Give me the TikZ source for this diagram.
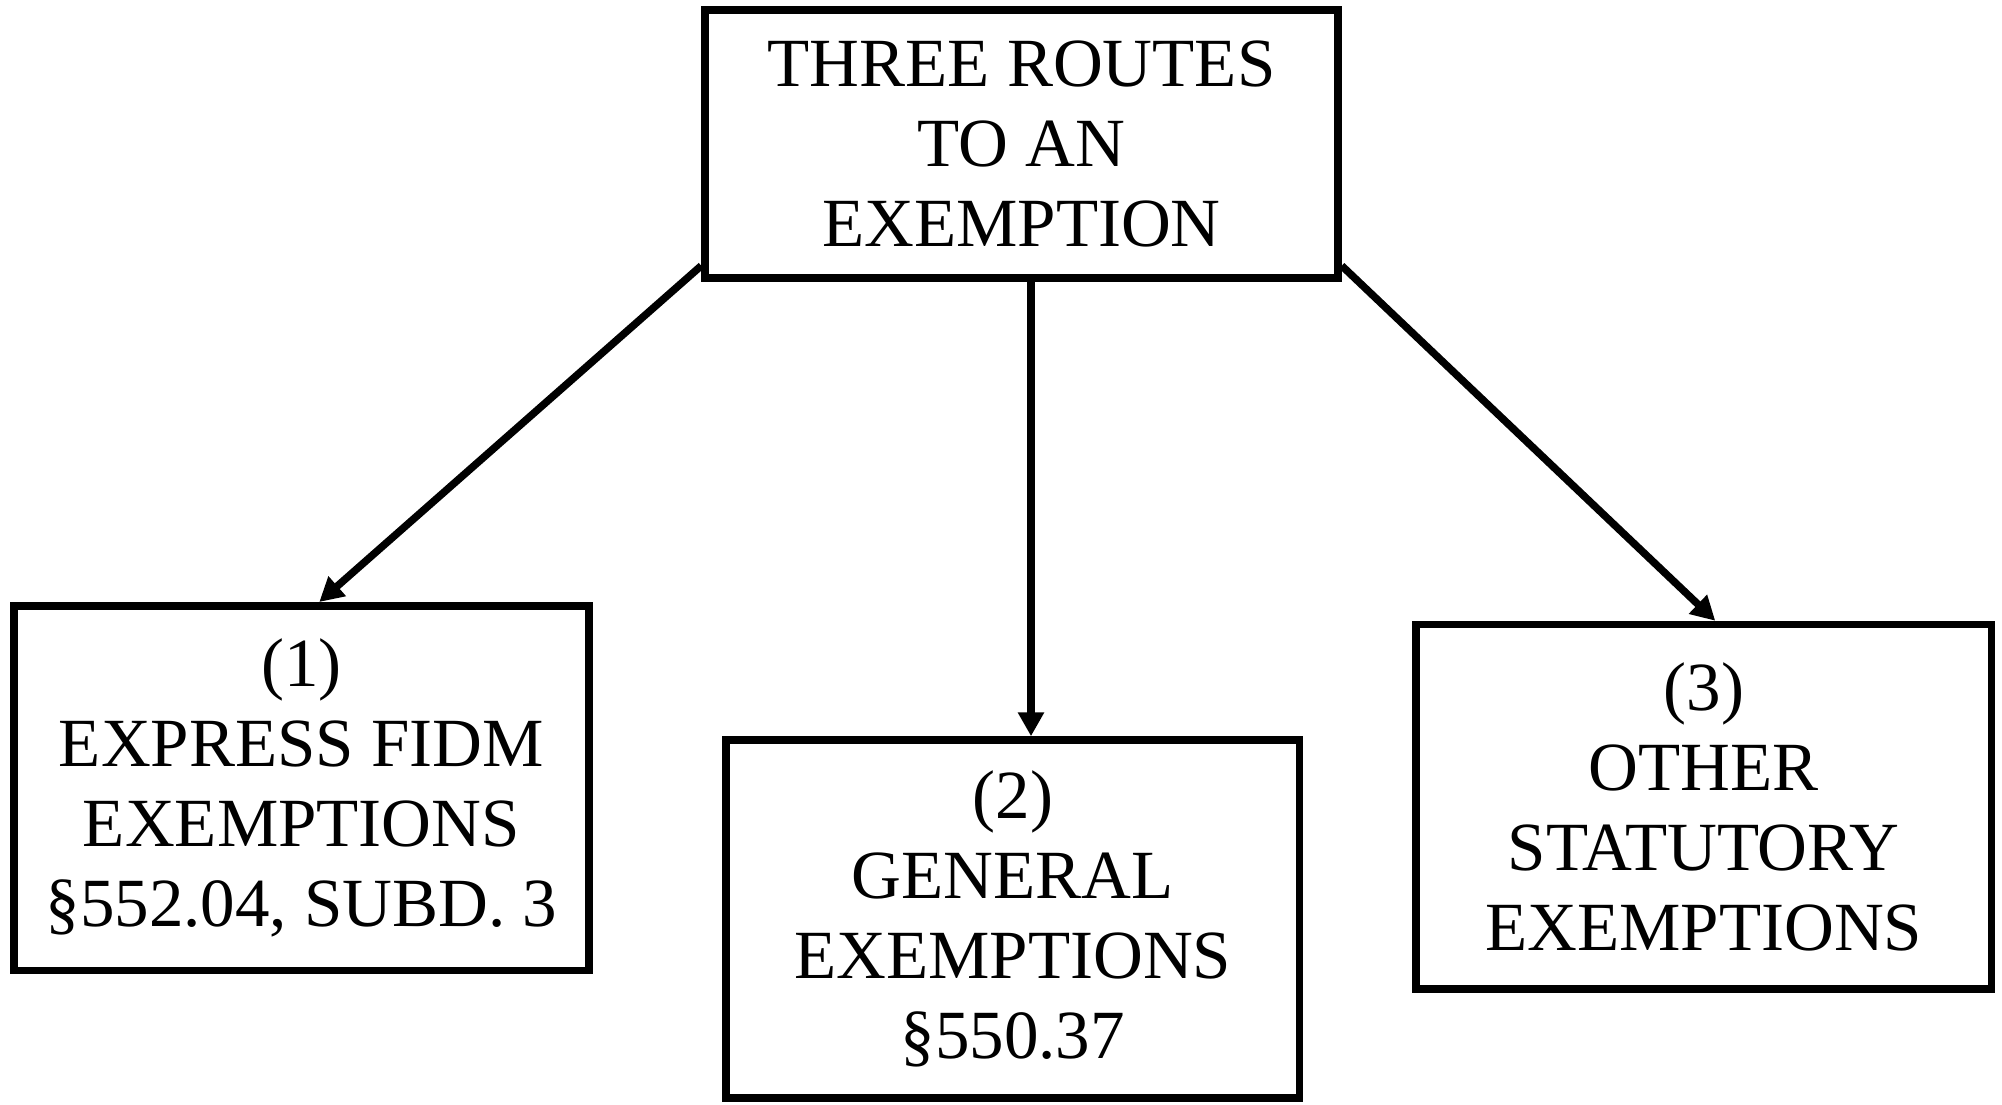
\documentclass[tikz,border=0pt]{standalone}
\usepackage{fontspec}
\setmainfont{Liberation Serif}
\usetikzlibrary{arrows.meta,calc}
\begin{document}
\begin{tikzpicture}[x=0.5pt,y=-0.5pt,
  box/.style={draw, line width=3.75pt, align=center, inner sep=0pt, font=\fontsize{34.5}{40}\selectfont},
  conn/.style={line width=3.75pt, -{Triangle[length=12pt,width=12.5pt]}}]
\useasboundingbox (0,0) rectangle (2002,1104);
\node[box, minimum width=316.5pt, minimum height=134pt] (top) at (1021.5,144) {THREE ROUTES\\TO AN\\EXEMPTION};
\node[box, minimum width=287.5pt, minimum height=182.25pt] (left) at (301.5,788) {(1)\\EXPRESS FIDM\\EXEMPTIONS\\§552.04, SUBD. 3};
\node[box, minimum width=286.75pt, minimum height=179pt] (mid) at (1012.75,919) {(2)\\GENERAL\\EXEMPTIONS\\§550.37};
\node[box, minimum width=287.75pt, minimum height=182.25pt] (right) at (1703.75,806.75) {(3)\\OTHER\\STATUTORY\\EXEMPTIONS};
\coordinate (tl) at ($(top.south west)+(0,-16)$);
\coordinate (tr) at ($(top.south east)+(0,-16)$);
\coordinate (tm) at ($(top.south)+(9.5,0)$);
\coordinate (lend) at ($(left.north west)+(309,0)$);
\coordinate (mend) at ($(mid.north)+(18.25,0)$);
\coordinate (rend) at ($(right.north west)+(303,0)$);
\draw[conn] (tl) -- (lend);
\draw[conn] (tm) -- (mend);
\draw[conn] (tr) -- (rend);
\end{tikzpicture}
\end{document}
